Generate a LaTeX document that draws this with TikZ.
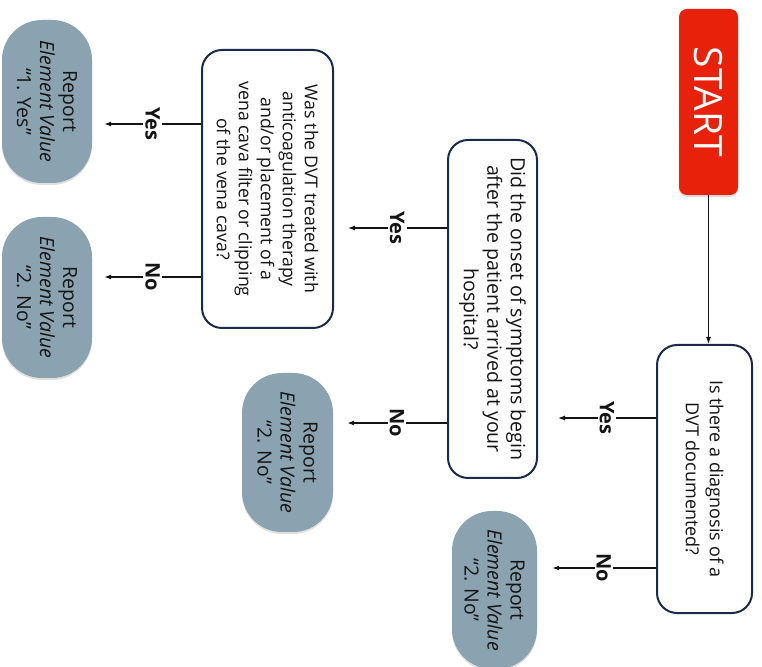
\documentclass[tikz,border=0pt]{standalone}
\usepackage{fontspec}
\setmainfont{Open Sans}
\usetikzlibrary{arrows.meta,shadows}
\definecolor{startred}{RGB}{232,33,10}
\definecolor{navy}{RGB}{27,42,74}
\definecolor{slate}{RGB}{139,162,176}
\definecolor{ink}{RGB}{20,20,20}
\begin{document}
\begin{tikzpicture}[x=1pt,y=1pt,
  qbox/.style={draw=navy, line width=2pt, rounded corners=20pt, rotate=-90,
    align=center, inner sep=0pt, fill=white, text=ink},
  rbox/.style={fill=slate, rounded corners=40pt, rotate=-90, align=center,
    inner sep=0pt, text=ink, font=\fontsize{19.5}{23}\selectfont,
    drop shadow={opacity=0.25, shadow xshift=0pt, shadow yshift=-2pt}},
  startbox/.style={fill=startred, rounded corners=8pt, rotate=-90, text=white,
    inner sep=0pt, font=\fontsize{39}{42}\selectfont,
    drop shadow={opacity=0.3, shadow xshift=0pt, shadow yshift=-2pt}},
  conn/.style={draw=ink, line width=1.1pt, -{Latex[length=7pt,width=5pt]}},
  lbl/.style={rotate=-90, fill=white, inner sep=2pt, text=ink,
    font=\fontsize{20}{22}\selectfont\bfseries}]
\useasboundingbox (0,0) rectangle (762,666);

\node[startbox, minimum width=186pt, minimum height=59pt] (start) at (708.5,564) {START};

\node[qbox, minimum width=268pt, minimum height=95pt,
  font=\fontsize{18}{24}\selectfont] (q1) at (704.5,187)
  {Is there a diagnosis of a\\DVT documented?};

\node[qbox, minimum width=338pt, minimum height=89pt,
  font=\fontsize{19.6}{23.5}\selectfont] (q2) at (492.5,357)
  {Did the onset of symptoms begin\\after the patient arrived at your\\hospital?};

\node[qbox, minimum width=278pt, minimum height=131pt,
  font=\fontsize{17.7}{22}\selectfont] (q3) at (267.5,477)
  {Was the DVT treated with\\anticoagulation therapy\\and/or placement of a\\vena cava filter or clipping\\of the vena cava?};

\node[rbox, minimum width=163pt, minimum height=90pt] (r1) at (47,564.5)
  {Report\\\textit{Element Value}\\“1. Yes”};
\node[rbox, minimum width=161pt, minimum height=90pt] (r2) at (47,368.5)
  {Report\\\textit{Element Value}\\“2. No”};
\node[rbox, minimum width=159pt, minimum height=91pt] (r3) at (287.5,213.5)
  {Report\\\textit{Element Value}\\“2. No”};
\node[rbox, minimum width=158pt, minimum height=85pt] (r4) at (494.5,76)
  {Report\\\textit{Element Value}\\“2. No”};

\draw[conn] (start.east) -- (start.east |- q1.west);

\draw[conn, shorten >=20pt] (q1.south |- 0,248) -- node[lbl, pos=0.417] {Yes} (q2.north |- 0,248);
\draw[conn, shorten >=15pt] (q1.south |- 0,98) -- node[lbl, pos=0.44] {No} (r4.north |- 0,98);

\draw[conn, shorten >=14pt] (q2.south |- 0,438) -- node[lbl, pos=0.44] {Yes} (q3.north |- 0,438);
\draw[conn, shorten >=14pt] (q2.south |- 0,243) -- node[lbl, pos=0.44] {No} (r3.north |- 0,243);

\draw[conn, shorten >=12pt] (q3.south |- 0,542) -- node[lbl, pos=0.445] {Yes} (r1.north |- 0,542);
\draw[conn, shorten >=12pt] (q3.south |- 0,389) -- node[lbl, pos=0.445] {No} (r2.north |- 0,389);
\end{tikzpicture}
\end{document}
